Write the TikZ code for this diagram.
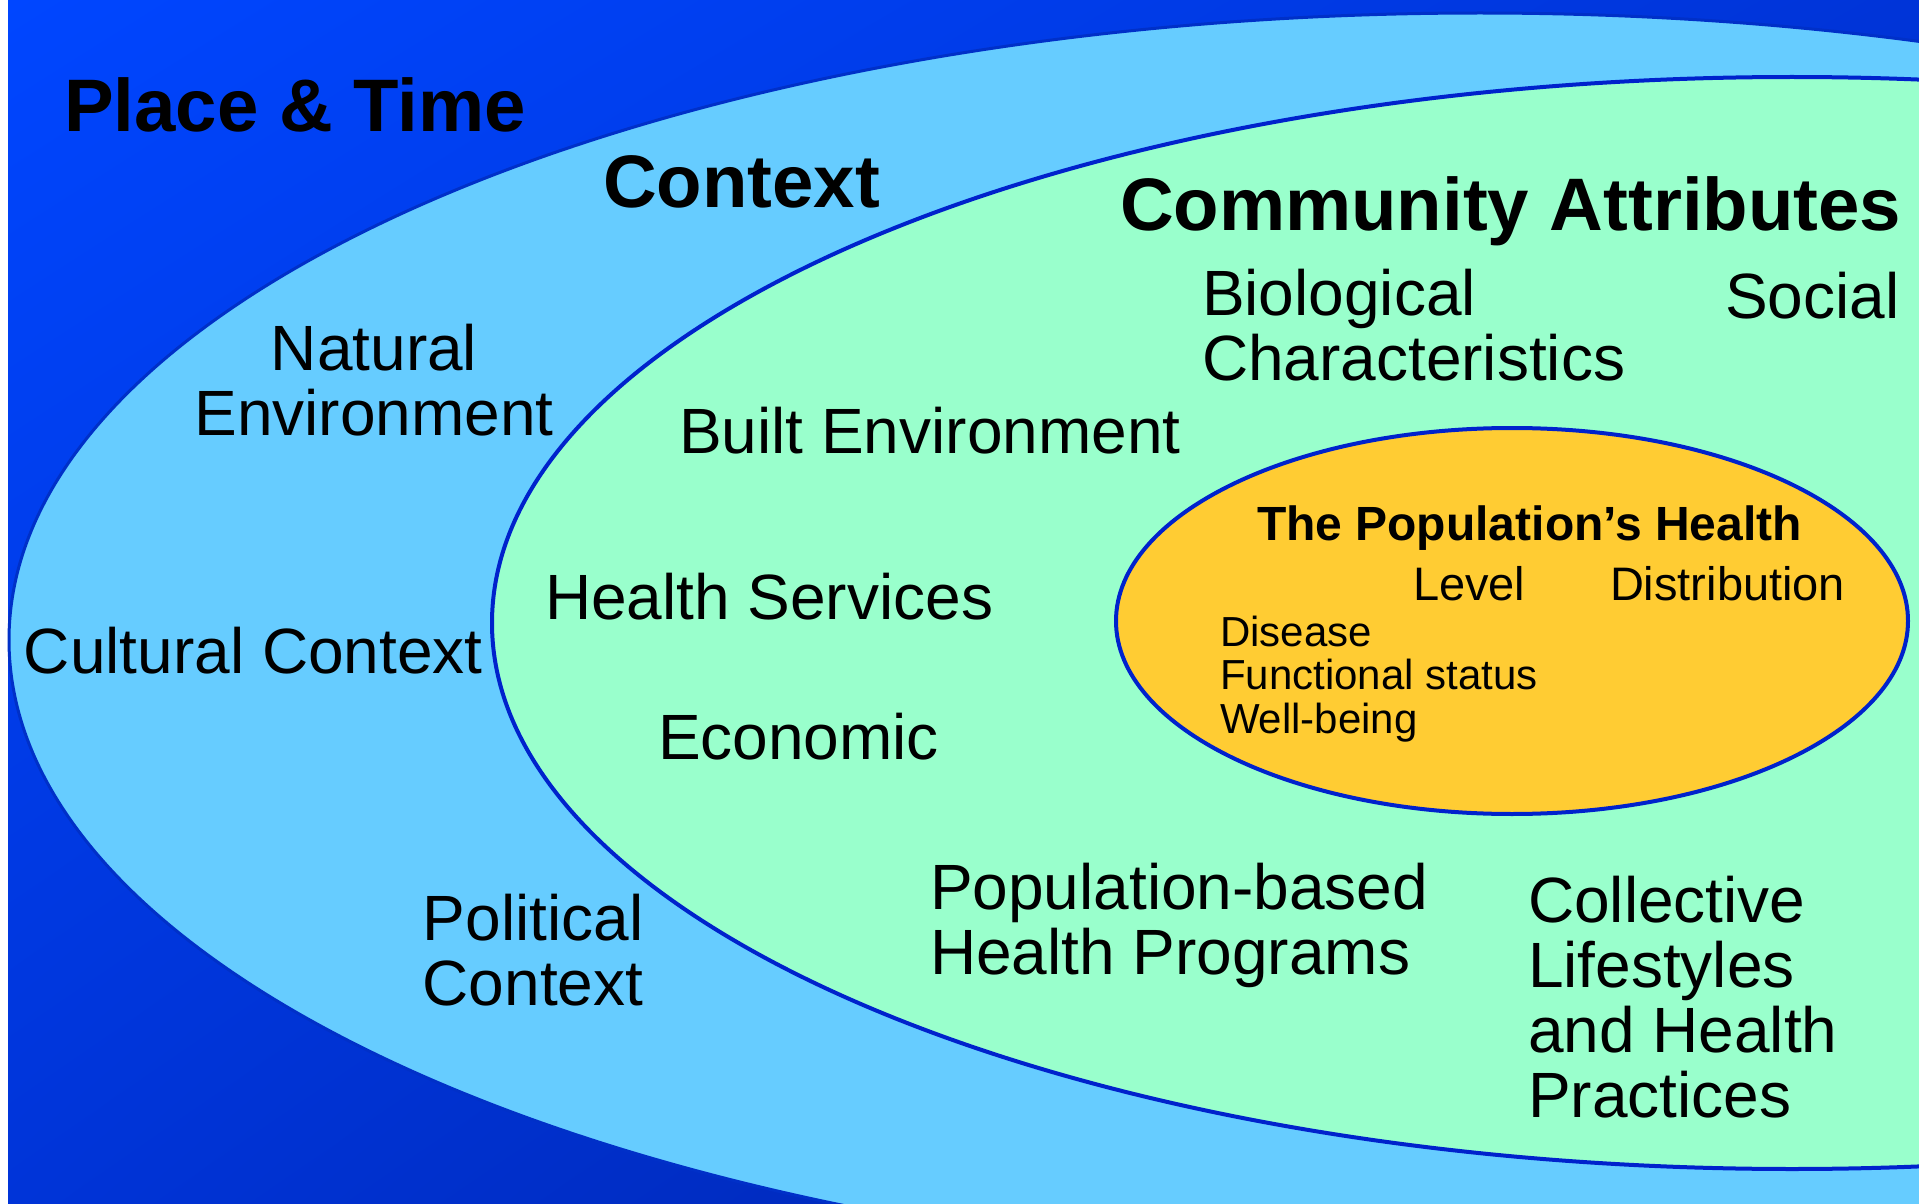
\documentclass[tikz,border=0pt]{standalone}
\usepackage{fontspec}
\setmainfont{Liberation Sans}
\usepackage{tikz}
\usetikzlibrary{positioning}
\usetikzlibrary{calc}
\usetikzlibrary{shadings}
\definecolor{bgtop}{HTML}{0046FF}
\definecolor{bgmid}{HTML}{0034D8}
\definecolor{bgbot}{HTML}{0020A0}
\definecolor{sky}{HTML}{66CCFF}
\definecolor{mint}{HTML}{99FFCC}
\definecolor{gold}{HTML}{FFCC33}
\definecolor{rim}{HTML}{0022CC}
\definecolor{outerrim}{HTML}{0030C8}
\tikzset{every node/.style={inner sep=0pt,outer sep=0pt,text=black},
 heading/.style={font=\fontsize{37.2}{40}\selectfont\bfseries},
 factor/.style={font=\fontsize{32}{32.5}\selectfont,align=left},
 healthhead/.style={font=\fontsize{24}{26}\selectfont\bfseries},
 healthsub/.style={font=\fontsize{23.5}{25}\selectfont},
 healthlist/.style={font=\fontsize{21}{21.75}\selectfont,align=left}}

\begin{document}
\begin{tikzpicture}[x=0.5pt,y=-0.5pt]
\useasboundingbox (0,0) rectangle (1919,1204);
\clip (0,0) rectangle (1919,1204);
\shade [upper left=bgtop, upper right=bgmid, lower left=bgmid, lower right=bgbot] (8,0) rectangle (1919,1204);

% the three nested regions
\filldraw [fill=sky, draw=outerrim, line width=1.5pt] (1480,640) ellipse [x radius=735.5pt, y radius=313.5pt];
\filldraw [fill=mint, draw=rim, line width=2pt] (1792,623) ellipse [x radius=650pt, y radius=273pt];
\filldraw [fill=gold, draw=rim, line width=2pt] (1512,621) ellipse [x radius=198pt, y radius=96.5pt];

\node (place) at (64,132) [heading, anchor=base west] {Place \& Time};
\node (context) at (603,207) [heading, anchor=base west] {Context};
\node (community) at (1120,230) [heading, anchor=base west] {Community Attributes};

\node (natural) at (374,324) [factor, align=center, anchor=north] {Natural\\Environment};
\node (cultural) at (24,673) [factor, anchor=base west] {Cultural Context};
\node (political) at (533,894) [factor, align=center, anchor=north] {Political\\Context};

\node (built) at (679,453) [factor, anchor=base west] {Built Environment};
\node (services) at (545,619) [factor, anchor=base west] {Health Services};
\node (economic) at (658,759) [factor, anchor=base west] {Economic};
\node (programs) at (930,863) [factor, anchor=north west] {Population-based\\Health Programs};

\node (biological) at (1202,269) [factor, anchor=north west] {Biological\\Characteristics};
\node (social) at (1725,318) [factor, anchor=base west] {Social};
\node (lifestyles) at (1528,876) [factor, anchor=north west] {Collective\\Lifestyles\\and Health\\Practices};

\node (health) at (1257,540) [healthhead, anchor=base west] {The Population’s Health};
\node (level) at (1413,600) [healthsub, anchor=base west] {Level};
\node (distribution) at (1610,600) [healthsub, anchor=base west] {Distribution};
\node (measures) at (1220,616) [healthlist, anchor=north west] {Disease\\Functional status\\Well-being};
\end{tikzpicture}
\end{document}
